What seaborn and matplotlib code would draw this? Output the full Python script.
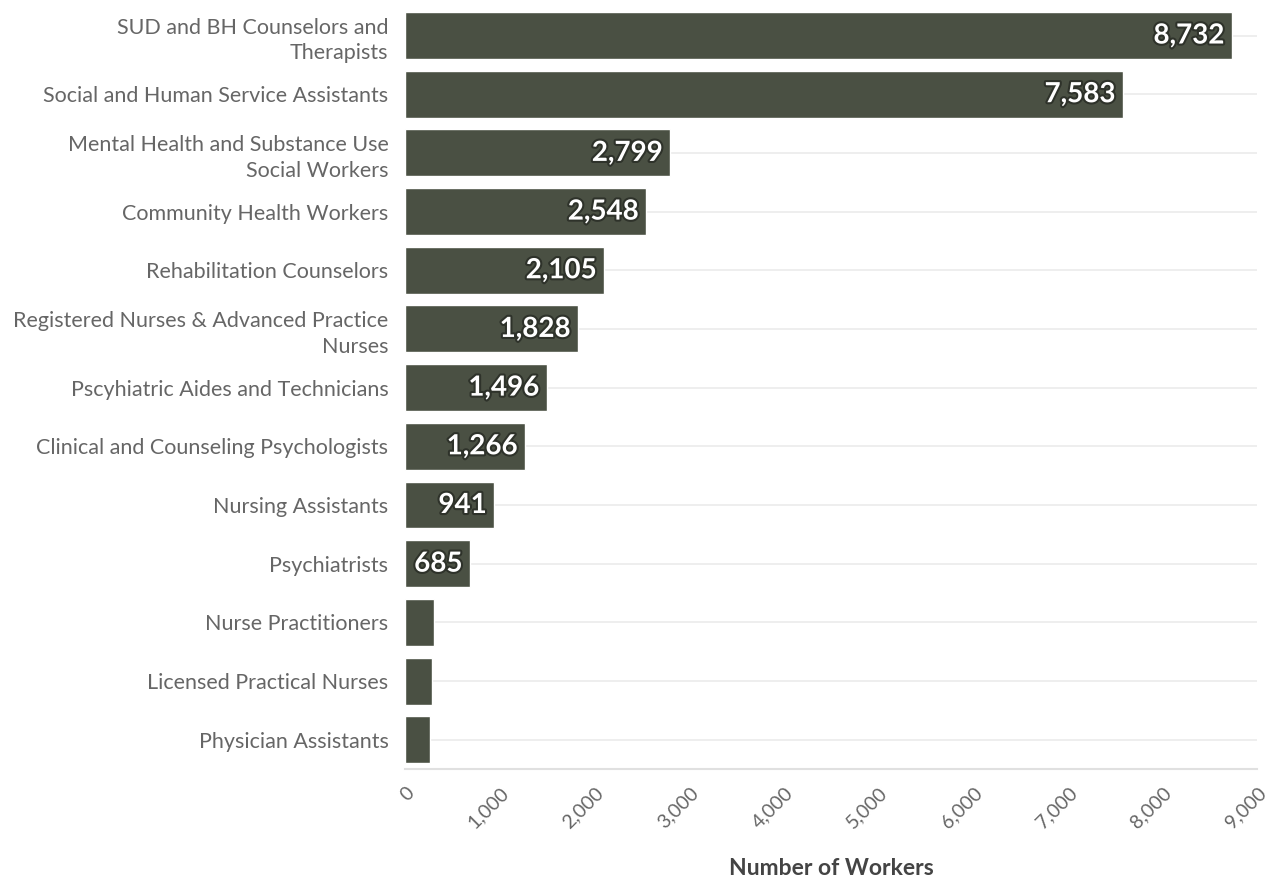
import matplotlib
matplotlib.use("Agg")
import matplotlib.pyplot as plt
import matplotlib.patheffects as pe
import seaborn as sns
import pandas as pd

occupations = [
    "SUD and BH Counselors and\nTherapists",
    "Social and Human Service Assistants",
    "Mental Health and Substance Use\nSocial Workers",
    "Community Health Workers",
    "Rehabilitation Counselors",
    "Registered Nurses & Advanced Practice\nNurses",
    "Pscyhiatric Aides and Technicians",
    "Clinical and Counseling Psychologists",
    "Nursing Assistants",
    "Psychiatrists",
    "Nurse Practitioners",
    "Licensed Practical Nurses",
    "Physician Assistants",
]
workers = [8732, 7583, 2799, 2548, 2105, 1828, 1496, 1266, 941, 685, 310, 285, 265]
labeled = [True] * 10 + [False] * 3
x_ticks = [0, 1000, 2000, 3000, 4000, 5000, 6000, 7000, 8000, 9000]

df = pd.DataFrame({"occupation": occupations, "workers": workers})

sns.set_theme(style="white")
plt.rcParams["font.family"] = ["Lato", "DejaVu Sans"]

bar_color = "#4a5043"
fig = plt.figure(figsize=(12.7, 8.85), dpi=100)
ax = fig.add_axes([0.319, 0.131, 0.671, 0.862])

sns.barplot(data=df, x="workers", y="occupation", color=bar_color,
            saturation=1, width=0.8, ax=ax, zorder=3)

ax.set_xlim(0, 9000)
ax.set_xticks(x_ticks)
ax.set_xticklabels([f"{v:,}" for v in x_ticks], rotation=45,
                   ha="right", rotation_mode="anchor", color="#666666", fontsize=14)
ax.tick_params(axis="x", length=5, color="#dddddd", pad=6)
ax.tick_params(axis="y", length=6, color="#e6e6e6", labelsize=15.5, labelcolor="#666666", pad=6)
for lbl in ax.get_yticklabels():
    lbl.set_multialignment("right")
    lbl.set_linespacing(1.35)

# light horizontal guides through each category
for i in range(len(occupations)):
    ax.axhline(i, color="#ebebeb", lw=1.2, zorder=0)

for side in ["top", "right", "left"]:
    ax.spines[side].set_visible(False)
ax.spines["bottom"].set_color("#e0e0e0")
ax.spines["bottom"].set_linewidth(1.5)

ax.set_ylabel("")
ax.set_xlabel("Number of Workers", fontsize=16.5, fontweight="bold", color="#444444", labelpad=19)

for i, (v, show) in enumerate(zip(workers, labeled)):
    if show:
        ax.text(v - 80, i, f"{v:,}", ha="right", va="center", color="white",
                fontsize=20, fontweight="bold", zorder=5,
                path_effects=[pe.withStroke(linewidth=3, foreground="#2e322a")])

fig.savefig("out.png", dpi=100, facecolor="white")
